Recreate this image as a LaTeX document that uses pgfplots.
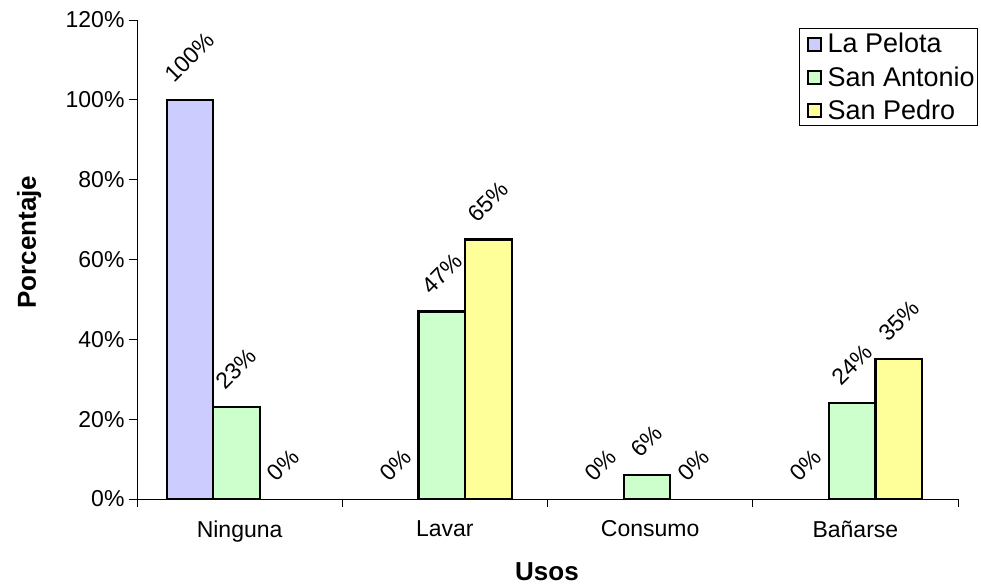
\documentclass[border=0pt]{standalone}
\usepackage{fontspec}
\setmainfont{Liberation Sans}
\usepackage{graphicx}
\usepackage{pgfplots}
\pgfplotsset{compat=1.18}
\definecolor{cPel}{HTML}{CCCCFF}
\definecolor{cAnt}{HTML}{CCFFCC}
\definecolor{cPed}{HTML}{FFFF99}
\begin{document}
\begin{tikzpicture}
\useasboundingbox (-137pt,-87pt) rectangle (844pt,499pt);
\begin{axis}[
  at={(0pt,0pt)}, anchor=south west,
  scale only axis, width=821pt, height=479pt,
  /pgf/number format/assume math mode=true,
  ybar=0pt, bar width=0.227,
  xmin=-0.5, xmax=3.5, ymin=0, ymax=120,
  axis x line=bottom, axis y line=left,
  axis line style={-, black, line width=0.8pt},
  tick align=outside,
  major tick length=8pt,
  tick style={black, line width=0.8pt},
  ytick={0,20,40,60,80,100,120},
  yticklabel={\pgfmathprintnumber{\tick}\%},
  yticklabel style={font=\fontsize{23}{27}\selectfont, xshift=-1pt},
  xtick={-0.5,0.5,1.5,2.5,3.5}, xticklabels={},
  extra x ticks={0,1,2,3},
  extra x tick labels={Ninguna,Lavar,Consumo,Bañarse},
  extra x tick style={major tick length=0pt, tick label style={font=\fontsize{23}{27}\selectfont, yshift=-18pt}},
  ylabel={Porcentaje}, xlabel={Usos},
  ylabel style={at={(axis description cs:-0.1315,0.536)}, anchor=center, font=\fontsize{26}{30}\selectfont\bfseries},
  xlabel style={at={(axis description cs:0.4994,-0.152)}, anchor=center, font=\fontsize{26}{30}\selectfont\bfseries},
  every axis plot/.append style={draw=black, line width=2.3pt},
  nodes near coords={\rotatebox{45}{\pgfmathprintnumber[precision=0]{\pgfplotspointmeta}\%}},
  every node near coord/.append style={anchor=south, inner sep=0pt, yshift=15pt, font=\fontsize{23}{27}\selectfont, text=black},
  legend style={at={(1.0244,0.9833)}, anchor=north east, draw=black, line width=0.8pt,
    font=\fontsize{27}{31}\selectfont, inner xsep=1pt, inner ysep=3pt, row sep=8pt,
    /tikz/every odd column/.append style={column sep=4pt}},
  legend cell align=left,
  legend image code/.code={\path (0pt,0pt); \draw[#1, line width=1.8pt] (6pt,-7pt) rectangle (19pt,6pt);},
]
\addplot[fill=cPel, bar shift=-0.242] coordinates {(0,100)};
\addplot[fill=cAnt, bar shift=-0.015] coordinates {(0,23) (1,47) (2,6) (3,24)};
\addplot[fill=cPed, bar shift=0.212] coordinates {(1,65) (3,35)};
\addplot[draw=none, fill=none, bar shift=-0.242, forget plot] coordinates {(1,0) (2,0) (3,0)};
\addplot[draw=none, fill=none, bar shift=0.212, forget plot] coordinates {(0,0) (2,0)};
\legend{La Pelota, San Antonio, San Pedro}
\end{axis}
\end{tikzpicture}
\end{document}
